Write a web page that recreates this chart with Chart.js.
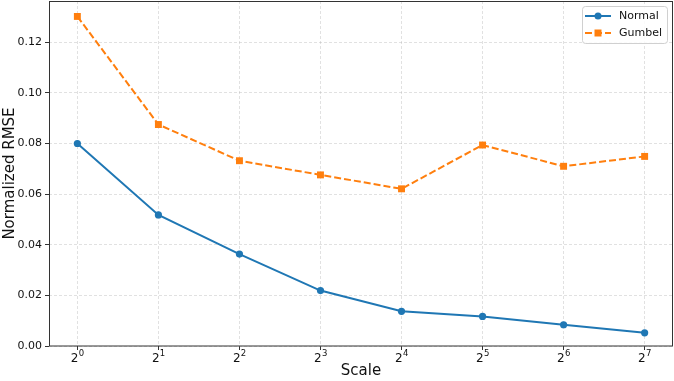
<!DOCTYPE html>
<html>
<head>
<meta charset="utf-8">
<script src="https://cdn.jsdelivr.net/npm/chart.js@4.4.1/dist/chart.umd.min.js"></script>
<style>
html,body{margin:0;padding:0;background:#fff;}
#wrap{width:674px;height:381px;}
</style>
</head>
<body>
<div id="wrap"><canvas id="c" width="674" height="381"></canvas></div>
<script>
const categories = ["2^0", "2^1", "2^2", "2^3", "2^4", "2^5", "2^6", "2^7"];
const normalValues = [0.0800, 0.0518, 0.0363, 0.0219, 0.0137, 0.0117, 0.0084, 0.0052];
const gumbelValues = [0.1302, 0.0875, 0.0732, 0.0676, 0.0621, 0.0794, 0.0710, 0.0749];
const yTicks = [0.00, 0.02, 0.04, 0.06, 0.08, 0.10, 0.12];
const seriesNames = ["Normal", "Gumbel"];

const FONT = "'DejaVu Sans', sans-serif";
const BLUE = "#1f77b4", ORANGE = "#ff7f0e";

const framePlugin = {
  id: "frame",
  afterDraw(chart) {
    const {ctx, chartArea: a} = chart;
    ctx.save();
    // superscript exponents of x tick labels
    const xs = chart.scales.x;
    ctx.fillStyle = "#111";
    ctx.font = "12px " + FONT;
    const baseW = ctx.measureText("2").width;
    ctx.font = "8.5px " + FONT;
    ctx.textAlign = "left";
    ctx.textBaseline = "alphabetic";
    categories.forEach((c, i) => {
      const exp = c.split("^")[1];
      const px = xs.getPixelForValue(i);
      ctx.fillText(exp, px - 2.7 + baseW / 2 + 0.3, 355.5);
    });
    // frame
    ctx.strokeStyle = "#333";
    ctx.lineWidth = 1;
    ctx.setLineDash([]);
    ctx.strokeRect(Math.round(a.left) + 0.5, Math.round(a.top) + 0.5, Math.round(a.right - a.left) - 1, Math.round(a.bottom - a.top) - 0.5);
    // legend
    const bx = 582.5, by = 6.5, bw = 85, bh = 37;
    ctx.fillStyle = "rgba(255,255,255,0.85)";
    ctx.strokeStyle = "#d0d0d0";
    ctx.beginPath();
    if (ctx.roundRect) ctx.roundRect(bx, by, bw, bh, 3); else ctx.rect(bx, by, bw, bh);
    ctx.fill(); ctx.stroke();
    const rows = [
      {name: seriesNames[0], color: BLUE, dash: [], y: 16, style: "circle"},
      {name: seriesNames[1], color: ORANGE, dash: [7, 3], y: 33, style: "rect"}
    ];
    rows.forEach(r => {
      ctx.strokeStyle = r.color; ctx.lineWidth = 2; ctx.setLineDash(r.dash);
      ctx.beginPath(); ctx.moveTo(585, r.y); ctx.lineTo(611, r.y); ctx.stroke();
      ctx.setLineDash([]);
      ctx.fillStyle = r.color;
      ctx.beginPath();
      if (r.style === "circle") ctx.arc(598, r.y, 3.5, 0, Math.PI * 2);
      else ctx.rect(594.5, r.y - 3.5, 7, 7);
      ctx.fill();
      ctx.fillStyle = "#111";
      ctx.font = "11px " + FONT;
      ctx.textBaseline = "middle";
      ctx.textAlign = "left";
      ctx.fillText(r.name, 619, r.y + 0.5);
    });
    ctx.restore();
  }
};

new Chart(document.getElementById("c"), {
  type: "line",
  data: {
    datasets: [
      {
        label: seriesNames[0],
        data: normalValues.map((v, i) => ({x: i, y: v})),
        borderColor: BLUE, backgroundColor: BLUE,
        borderWidth: 2, pointStyle: "circle", pointRadius: 3.6,
        pointBorderWidth: 0, tension: 0
      },
      {
        label: seriesNames[1],
        data: gumbelValues.map((v, i) => ({x: i, y: v})),
        borderColor: ORANGE, backgroundColor: ORANGE,
        borderWidth: 2, borderDash: [7, 3], pointStyle: "rect", pointRadius: 4.9,
        pointBorderWidth: 0, tension: 0
      }
    ]
  },
  options: {
    responsive: false,
    devicePixelRatio: 1,
    animation: false,
    layout: {autoPadding: false, padding: {left: 0, right: 1, top: 1, bottom: 0}},
    plugins: {legend: {display: false}, tooltip: {enabled: false}},
    scales: {
      x: {
        type: "linear",
        min: -0.35, max: 7.35,
        afterBuildTicks: s => { s.ticks = categories.map((_, i) => ({value: i})); },
        afterFit: s => { s.height = 35; s.paddingLeft = 0; s.paddingRight = 0; },
        ticks: {
          callback: (v) => (categories[v] || "").split("^")[0],
          font: {family: FONT, size: 12}, color: "#111", padding: 2, maxRotation: 0, labelOffset: -2.7
        },
        grid: {color: "rgba(170,170,170,0.45)", lineWidth: 0.8, tickColor: "#333", tickLength: 4, tickWidth: 1},
        border: {display: false, dash: [3, 2]},
        title: {display: true, text: "Scale", font: {family: FONT, size: 15}, color: "#111", padding: {top: 0, bottom: 1}}
      },
      y: {
        type: "linear",
        min: 0, max: 0.1363,
        afterBuildTicks: s => { s.ticks = yTicks.map(v => ({value: v})); },
        afterFit: s => { s.width = 49; s.paddingTop = 0; s.paddingBottom = 0; },
        ticks: {
          callback: v => Number(v).toFixed(2),
          font: {family: FONT, size: 11}, color: "#111", padding: 3
        },
        grid: {color: "rgba(170,170,170,0.45)", lineWidth: 0.8, tickColor: "#333", tickLength: 4, tickWidth: 1},
        border: {display: false, dash: [3, 2]},
        title: {display: true, text: "Normalized RMSE", font: {family: FONT, size: 15}, color: "#111", padding: {top: 1, bottom: 0}}
      }
    }
  },
  plugins: [framePlugin]
});
</script>
</body>
</html>
